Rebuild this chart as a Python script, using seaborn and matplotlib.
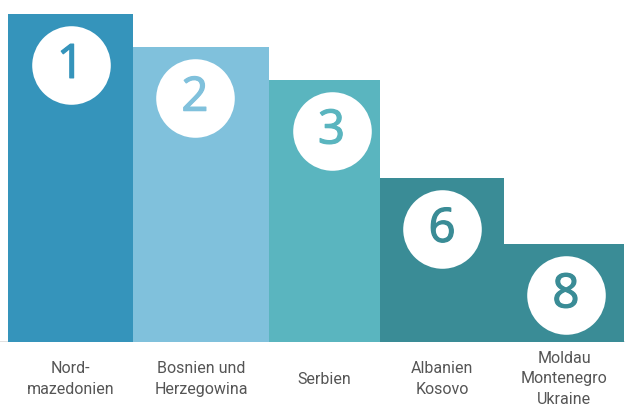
import numpy as np
import pandas as pd
import matplotlib
matplotlib.use("Agg")
import matplotlib.pyplot as plt
import matplotlib.transforms as mtransforms
import matplotlib.patheffects as pe
import seaborn as sns

# Daten
laender = ["Nord-\nmazedonien", "Bosnien und\nHerzegowina", "Serbien",
           "Albanien\nKosovo", "Moldau\nMontenegro\nUkraine"]
rang = ["1", "2", "3", "6", "8"]
wert = [100, 90, 80, 50, 30]

# Layout (Pixelbreiten der Balken, horizontale Verschiebung der Kreise)
breiten = [125, 136, 111, 124, 120]
kreis_dx = [0, -6, 7, 0, 2]
farben = ["#3594bb", "#80c1dc", "#5ab5bf", "#3a8c96", "#3a8c96"]

df = pd.DataFrame({"land": laender, "wert": wert})

sns.set_style("white")
fig = plt.figure(figsize=(6.25, 4.07), dpi=100)
ax = fig.add_axes([0, 65 / 407, 1, 342 / 407])

sns.barplot(data=df, x="land", y="wert", hue="land", palette=farben,
            dodge=False, legend=False, ax=ax, saturation=1)

# Balken auf variable Breiten setzen
links = 8 + np.concatenate([[0], np.cumsum(breiten)[:-1]])
mitten = links + np.array(breiten) / 2
for patch, l, b in zip(ax.patches, links, breiten):
    patch.set_x(l)
    patch.set_width(b)
    patch.set_linewidth(0)

ax.set_xlim(0, 625)
ax.set_ylim(0, 104.3)
ax.axhline(0, color="#dcdcdc", lw=1.2, zorder=0)

# Kreise mit Rang
kreis_x = mitten + np.array(kreis_dx)
kreis_trans = mtransforms.offset_copy(ax.transData, fig=fig, x=0, y=-51, units="dots")
ax.scatter(kreis_x, wert, s=3200, color="white", transform=kreis_trans, zorder=3, linewidths=0)
for xm, w, r, c in zip(kreis_x, wert, rang, farben):
    ax.text(xm, w, r, transform=kreis_trans, ha="center", va="center",
            fontsize=34, color=c, family="Open Sans", zorder=4,
            path_effects=[pe.withStroke(linewidth=0.9, foreground=c)])

# Beschriftungen
label_trans = mtransforms.offset_copy(
    mtransforms.blended_transform_factory(ax.transData, ax.transAxes),
    fig=fig, x=0, y=-37, units="dots")
for xm, name in zip(mitten, laender):
    ax.text(xm, 0, name, transform=label_trans, ha="center", va="center",
            fontsize=11.5, color="#555555", family="Roboto", linespacing=1.45,
            clip_on=False)

ax.set_xlabel("")
ax.set_ylabel("")
ax.set_xticks([])
ax.set_yticks([])
sns.despine(ax=ax, left=True, bottom=True)

fig.savefig("out.png", dpi=100)
